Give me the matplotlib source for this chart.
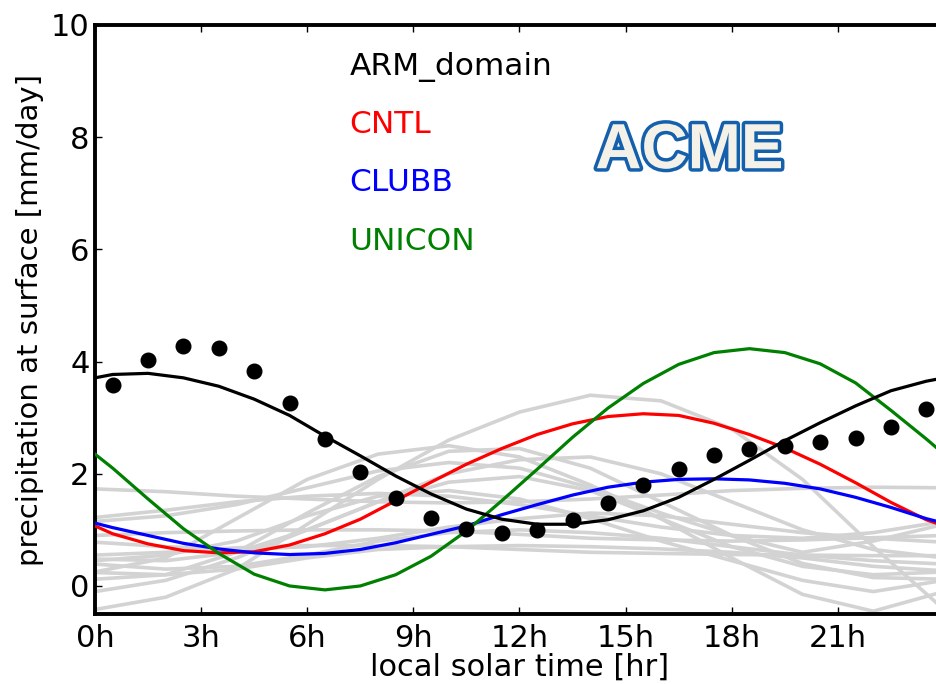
import numpy as np
import matplotlib
matplotlib.use("Agg")
import matplotlib.pyplot as plt
import matplotlib.patheffects as pe

# hours for the model curves (half-hour samples, plus the day ends)
hours = [0.0] + list(np.arange(0.5, 24, 1.0)) + [24.0]
obs_hours = list(np.arange(0.5, 24, 1.0))
gray_hours = list(range(0, 25, 2))

arm_obs = [3.58, 4.03, 4.28, 4.25, 3.84, 3.26, 2.62, 2.04, 1.57, 1.22, 1.01, 0.94,
           0.99, 1.18, 1.48, 1.80, 2.09, 2.33, 2.45, 2.49, 2.56, 2.64, 2.83, 3.15]

arm_fit = [3.71, 3.77, 3.79, 3.71, 3.56, 3.33, 3.04, 2.67, 2.32, 1.96, 1.64, 1.37, 1.19,
           1.10, 1.10, 1.18, 1.34, 1.58, 1.90, 2.24, 2.59, 2.91, 3.21, 3.48, 3.65, 3.71]
cntl = [1.07, 0.93, 0.75, 0.63, 0.59, 0.61, 0.73, 0.93, 1.19, 1.52, 1.85, 2.17, 2.45,
        2.70, 2.89, 3.02, 3.07, 3.04, 2.90, 2.70, 2.46, 2.17, 1.84, 1.49, 1.18, 1.07]
clubb = [1.12, 1.04, 0.90, 0.76, 0.66, 0.59, 0.56, 0.58, 0.65, 0.77, 0.92, 1.07, 1.27,
         1.45, 1.62, 1.76, 1.85, 1.90, 1.91, 1.89, 1.83, 1.73, 1.58, 1.40, 1.20, 1.12]
unicon = [2.35, 2.10, 1.55, 1.02, 0.58, 0.21, 0.00, -0.07, 0.00, 0.20, 0.53, 0.98, 1.52,
          2.08, 2.65, 3.17, 3.61, 3.95, 4.16, 4.23, 4.16, 3.96, 3.62, 3.13, 2.62, 2.35]

# other models (light gray), every 2 h
gray_models = [
    [-0.42, -0.20, 0.30, 1.10, 1.90, 2.60, 3.10, 3.40, 3.30, 2.80, 1.90, 0.70, -0.42],
    [0.25, 0.50, 1.20, 1.90, 2.35, 2.50, 2.30, 1.80, 1.20, 0.70, 0.35, 0.20, 0.25],
    [0.12, 0.20, 0.60, 1.30, 1.95, 2.40, 2.45, 2.10, 1.50, 0.90, 0.40, 0.15, 0.12],
    [0.48, 0.45, 0.60, 1.00, 1.50, 2.00, 2.25, 2.30, 2.00, 1.50, 1.00, 0.65, 0.50],
    [1.73, 1.68, 1.60, 1.55, 1.50, 1.48, 1.50, 1.55, 1.62, 1.70, 1.74, 1.76, 1.75],
    [1.22, 1.35, 1.50, 1.60, 1.65, 1.60, 1.45, 1.25, 1.05, 0.90, 0.85, 0.95, 1.15],
    [1.15, 1.25, 1.45, 1.75, 2.05, 2.20, 2.10, 1.75, 1.30, 0.90, 0.60, 0.80, 1.10],
    [-0.10, 0.10, 0.50, 1.00, 1.50, 1.85, 1.95, 1.70, 1.20, 0.50, -0.15, -0.45, -0.10],
    [0.78, 0.70, 0.65, 0.70, 0.85, 1.05, 1.20, 1.30, 1.25, 1.10, 0.95, 0.85, 0.78],
    [0.39, 0.30, 0.35, 0.55, 0.80, 0.95, 1.00, 0.95, 0.85, 0.70, 0.55, 0.45, 0.39],
    [0.90, 0.95, 0.98, 1.00, 1.00, 0.98, 0.92, 0.85, 0.82, 0.80, 0.82, 0.86, 0.90],
    [0.24, 0.20, 0.30, 0.50, 0.65, 0.70, 0.72, 0.70, 0.66, 0.60, 0.50, 0.35, 0.27],
    [0.55, 0.60, 0.68, 0.72, 0.72, 0.70, 0.65, 0.60, 0.58, 0.56, 0.55, 0.54, 0.54],
    [0.45, 0.55, 0.80, 1.25, 1.60, 1.70, 1.55, 1.20, 0.80, 0.45, 0.10, -0.10, 0.10],
]

xtick_pos = list(range(0, 24, 3))
xtick_labels = ["%dh" % h for h in xtick_pos]

fig = plt.figure(figsize=(9.37, 6.84), dpi=100)
ax = fig.add_axes([95 / 937, 70 / 684, 849 / 937, 589 / 684])

for g in gray_models:
    ax.plot(gray_hours, g, color="#d3d3d3", lw=2.6, zorder=1)

ax.plot(hours, cntl, color="red", lw=2.3, zorder=3)
ax.plot(hours, clubb, color="blue", lw=2.3, zorder=3)
ax.plot(hours, unicon, color="green", lw=2.3, zorder=3)
ax.plot(hours, arm_fit, color="black", lw=2.3, zorder=4)
ax.plot(obs_hours, arm_obs, "o", color="black", ms=10.5, zorder=5)

# legend-like labels
ax.text(7.2, 9.25, "ARM_domain", color="black", fontsize=22.5, va="center")
ax.text(7.2, 8.22, "CNTL", color="red", fontsize=22.5, va="center")
ax.text(7.2, 7.19, "CLUBB", color="blue", fontsize=22.5, va="center")
ax.text(7.2, 6.14, "UNICON", color="green", fontsize=22.5, va="center")

ax.text(16.8, 7.75, "ACME", fontsize=46, fontweight="bold", family="Liberation Sans",
        color="#f4f2e8", ha="center", va="center", zorder=6,
        path_effects=[pe.SimplePatchShadow(offset=(2, -2), alpha=0.35),
                      pe.Stroke(linewidth=5, foreground="#1460ad"), pe.Normal()])

ax.set_xlim(0, 24)
ax.set_ylim(-0.5, 10)
ax.set_xticks(xtick_pos)
ax.set_xticklabels(xtick_labels)
ax.set_yticks([0, 2, 4, 6, 8, 10])
ax.tick_params(direction="in", top=True, right=True, length=5, width=1,
               labelsize=22)
ax.tick_params(axis="x", pad=7)
ax.tick_params(axis="y", pad=4)
for s in ax.spines.values():
    s.set_linewidth(2.8)

ax.set_xlabel("local solar time [hr]", fontsize=22, labelpad=0)
ax.set_ylabel("precipitation at surface [mm/day]", fontsize=21, labelpad=5)

fig.savefig("out.png", dpi=100)
